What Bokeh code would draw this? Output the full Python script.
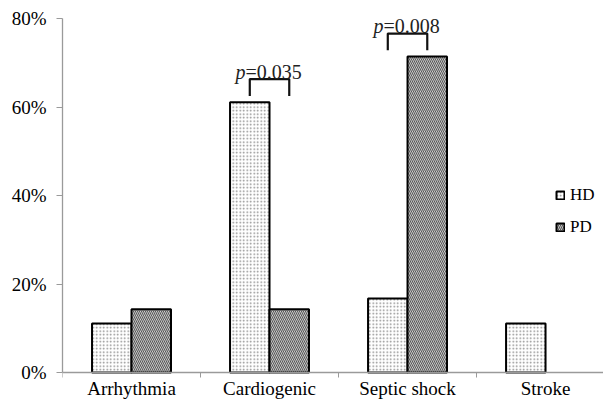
from bokeh.plotting import figure
from bokeh.models import (ColumnDataSource, Range1d, FixedTicker, Label, Legend, LegendItem)
from bokeh.embed import file_html
from bokeh.resources import INLINE

# ---- data ----
categories = ["Arrhythmia", "Cardiogenic", "Septic shock", "Stroke"]
hd_values = [11.1, 61.1, 16.7, 11.1]
pd_values = [14.3, 14.3, 71.4, 0.0]
y_ticks = [0, 20, 40, 60, 80]
y_tick_labels = ["0%", "20%", "40%", "60%", "80%"]
comparison_categories = ["Cardiogenic", "Septic shock"]
comparison_p = ["=0.035", "=0.008"]

FONT = "Liberation Serif"
BAR_W = 0.286

p = figure(width=603, height=399, output_backend="svg", toolbar_location=None,
           x_range=Range1d(0, 3.92), y_range=Range1d(-6.1, 80),
           min_border_left=62, min_border_right=0, min_border_top=18, min_border_bottom=0)
p.outline_line_color = None
p.xgrid.visible = False
p.ygrid.visible = False
p.background_fill_color = "white"

centers = [i + 0.5 for i in range(len(categories))]
hd_src = ColumnDataSource(dict(x=[c - BAR_W / 2 for c in centers], top=hd_values))
pd_x = [c + BAR_W / 2 for c, v in zip(centers, pd_values) if v > 0]
pd_top = [v for v in pd_values if v > 0]
pd_src = ColumnDataSource(dict(x=pd_x, top=pd_top))

r_hd = p.vbar(x="x", top="top", bottom=0, width=BAR_W, source=hd_src,
              fill_color="white", line_color="black", line_width=2,
              hatch_pattern="dot", hatch_color="#8a8a8a", hatch_scale=3.5, hatch_weight=1)
r_pd = p.vbar(x="x", top="top", bottom=0, width=BAR_W, source=pd_src,
              fill_color="#e2e2e2", line_color="black", line_width=2,
              hatch_pattern="left_diagonal_line", hatch_color="#555555", hatch_scale=4, hatch_weight=1.1)

# ---- significance brackets ----
for cat, ptxt in zip(comparison_categories, comparison_p):
    i = categories.index(cat)
    x0 = centers[i] - BAR_W / 2
    x1 = centers[i] + BAR_W / 2
    m = max(hd_values[i], pd_values[i])
    bottom = m + 1.4
    top = m + 5.2
    p.line(x=[x0, x0, x1, x1], y=[bottom, top, top, bottom], line_color="#111111", line_width=2.2)
    xc = (x0 + x1) / 2
    yt = top + 1.6
    p.add_layout(Label(x=xc, y=yt, x_offset=-24, text="p", text_align="right",
                       text_baseline="alphabetic", text_font=FONT, text_font_style="italic",
                       text_font_size="20px", text_color="#222222"))
    p.add_layout(Label(x=xc, y=yt, x_offset=-24, text=ptxt, text_align="left",
                       text_baseline="alphabetic", text_font=FONT,
                       text_font_size="20px", text_color="#222222"))

# ---- axes ----
ax = p.xaxis[0]
ax.fixed_location = 0
ax.ticker = FixedTicker(ticks=centers, minor_ticks=[0, 1, 2, 3])
ax.major_label_overrides = {c: name for c, name in zip(centers, categories)}
ax.major_label_text_font = FONT
ax.major_label_text_font_size = "19px"
ax.major_label_text_color = "black"
ax.major_label_standoff = 0
ax.major_tick_line_color = None
ax.major_tick_out = 0
ax.major_tick_in = 0
ax.minor_tick_line_color = "#9a9a9a"
ax.minor_tick_out = 5
ax.minor_tick_in = 0
ax.axis_line_color = "#9a9a9a"
ax.axis_line_width = 1.3

ay = p.yaxis[0]
ay.bounds = (0, 80)
ay.ticker = FixedTicker(ticks=y_ticks, minor_ticks=[])
ay.major_label_overrides = {t: l for t, l in zip(y_ticks, y_tick_labels)}
ay.major_tick_line_color = "#9a9a9a"
ay.major_tick_out = 6
ay.major_tick_in = 0
ay.axis_line_color = "#9a9a9a"
ay.axis_line_width = 1.3
ay.major_label_text_font = FONT
ay.major_label_text_font_size = "19px"
ay.major_label_text_color = "black"
ay.major_label_standoff = 10

# ---- legend ----
legend = Legend(items=[LegendItem(label="HD", renderers=[r_hd]),
                       LegendItem(label="PD", renderers=[r_pd])],
                location=(493, 162), glyph_width=10, glyph_height=10,
                label_standoff=5, spacing=12, padding=0, margin=0,
                border_line_color=None, background_fill_alpha=0,
                label_text_font=FONT, label_text_font_size="17px", label_text_color="black")
p.add_layout(legend)

open("out.html", "w").write(file_html(p, INLINE))
